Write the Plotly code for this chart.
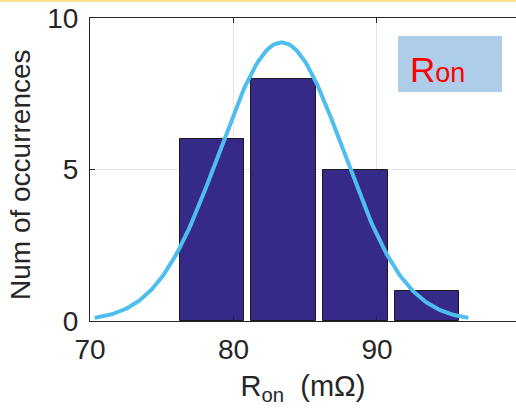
import numpy as np
import plotly.graph_objects as go

# Histogram of on-resistance measurements (bin centres in mΩ, counts)
bin_centers = [78.5, 83.5, 88.5, 93.5]
counts = [6, 8, 5, 1]
bin_width = 5.0
bar_width = 4.5

# Normal fit parameters (mean, standard deviation in mΩ)
fit_mu = 83.35
fit_sigma = 4.34

x_ticks = [70, 80, 90]
y_ticks = [0, 5, 10]

# Fitted normal curve scaled to counts, drawn over mu ± 3 sigma
n_total = sum(counts)
xs = np.linspace(fit_mu - 3 * fit_sigma, fit_mu + 3 * fit_sigma, 200)
ys = n_total * bin_width / (fit_sigma * np.sqrt(2 * np.pi)) * np.exp(-0.5 * ((xs - fit_mu) / fit_sigma) ** 2)

FONT = "Liberation Sans, Arial, sans-serif"
TXT = "#262626"

fig = go.Figure()
fig.add_trace(go.Bar(
    x=bin_centers, y=counts, width=[bar_width] * len(counts),
    marker=dict(color="#352a87", line=dict(color="#1a1a1a", width=1)),
    showlegend=False,
))
fig.add_trace(go.Scatter(
    x=xs, y=ys, mode="lines",
    line=dict(color="#4dbeee", width=4),
    showlegend=False,
))

fig.update_layout(
    width=516, height=410,
    margin=dict(l=90, r=0, t=18, b=89),
    paper_bgcolor="white", plot_bgcolor="white",
    font=dict(family=FONT, color=TXT),
    xaxis=dict(
        range=[70, 99.69], tickvals=x_ticks, ticktext=[str(v) for v in x_ticks],
        showline=True, linecolor="#262626", linewidth=1.2, mirror="ticks",
        ticks="inside", ticklen=5, tickcolor="#262626",
        showgrid=True, gridcolor="#e6e6e6", gridwidth=1, zeroline=False,
        tickfont=dict(size=28, color=TXT), ticklabelstandoff=3,
        title=dict(text="R<sub>on</sub>&nbsp; (mΩ)", font=dict(size=29, color=TXT), standoff=11),
    ),
    yaxis=dict(
        range=[0, 10], tickvals=y_ticks, ticktext=[str(v) for v in y_ticks],
        showline=True, linecolor="#262626", linewidth=1.2, mirror=False,
        ticks="inside", ticklen=5, tickcolor="#262626",
        showgrid=True, gridcolor="#e6e6e6", gridwidth=1, zeroline=False,
        tickfont=dict(size=28, color=TXT), ticklabelstandoff=5,
    ),
    shapes=[
        # thin accent rule along the top edge
        dict(type="line", xref="paper", yref="paper", x0=-0.25, x1=1.05,
             y0=1 + 17.2 / 303, y1=1 + 17.2 / 303, line=dict(color="#fbdf85", width=2)),
        # label box
        dict(type="rect", xref="paper", yref="paper",
             x0=(398 - 90) / 426, x1=(502 - 90) / 426,
             y0=(321 - 92) / 303, y1=(321 - 36) / 303,
             fillcolor="#aecde9", line=dict(width=0), layer="above"),
    ],
    annotations=[
        # y-axis title
        dict(xref="paper", yref="paper", x=(21 - 90) / 426, y=(321 - 175) / 303,
             xanchor="center", yanchor="middle", showarrow=False, textangle=-90,
             text="Num of occurrences", font=dict(size=28, color=TXT, family=FONT)),
        # series label
        dict(xref="paper", yref="paper", x=(408 - 90) / 426, y=(321 - 69) / 303,
             xanchor="left", yanchor="middle", showarrow=False,
             text="R<span style='font-size:27px'>on</span>",
             font=dict(size=35, color="#ff0000", family=FONT)),
    ],
    bargap=0,
)

fig.write_html("out.html")
